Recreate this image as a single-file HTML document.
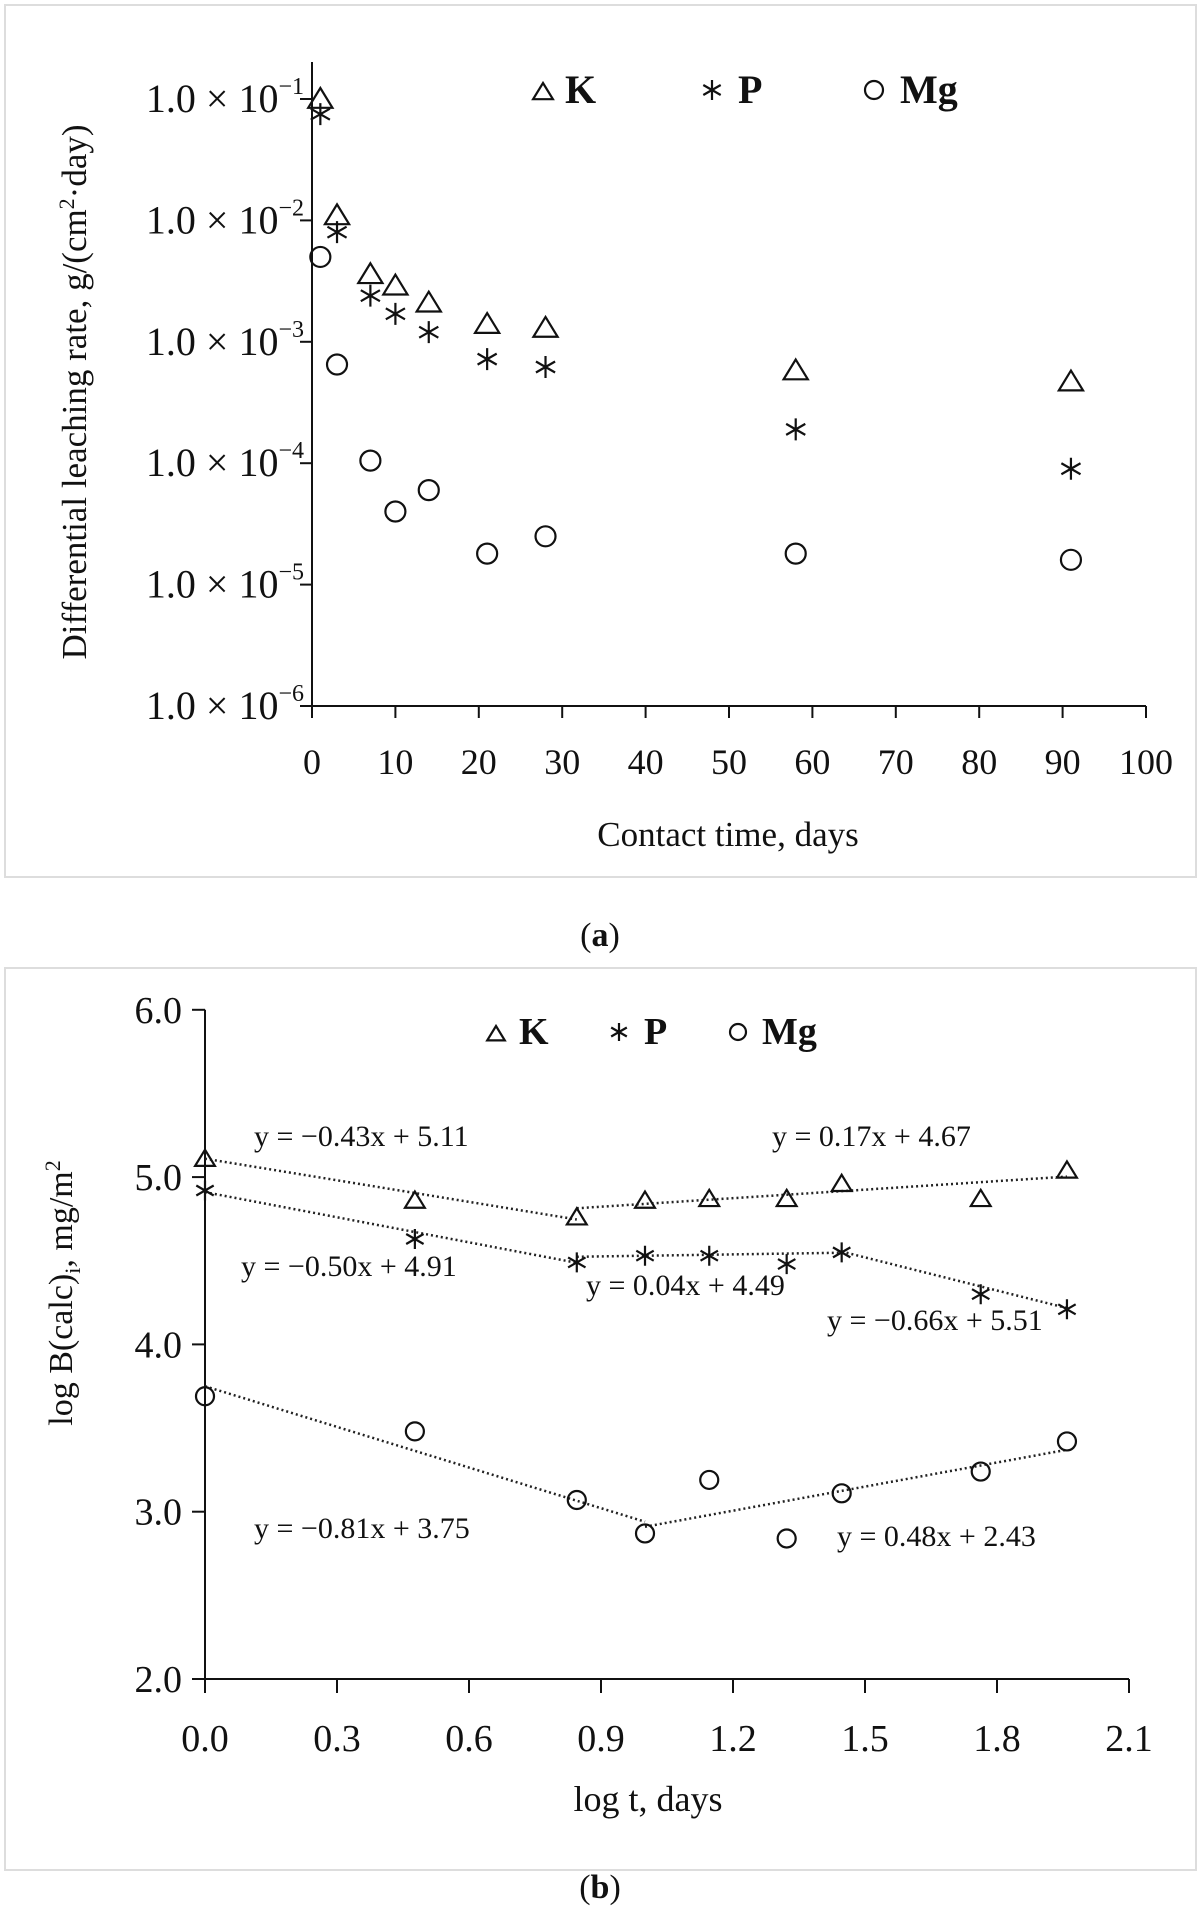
<!DOCTYPE html>
<html><head><meta charset="utf-8"><style>
body{margin:0;background:#fff}
svg{display:block}
text{font-family:"Liberation Serif",serif;fill:#111}
</style></head><body>
<svg width="1203" height="1908" viewBox="0 0 1203 1908" xmlns="http://www.w3.org/2000/svg">
<rect x="5" y="5" width="1191" height="872" fill="none" stroke="#ddd" stroke-width="2"/>
<rect x="5" y="968" width="1191" height="902" fill="none" stroke="#ddd" stroke-width="2"/>
<g id="ca"></g>
<g id="cb"></g>
<text x="600" y="946" font-size="34" text-anchor="middle">(<tspan font-weight="bold">a</tspan>)</text>
<text x="600" y="1898" font-size="34" text-anchor="middle">(<tspan font-weight="bold">b</tspan>)</text>
</svg>
<script>
// ---- chart a data ----
const daysA = [1,3,7,10,14,21,28,58,91];
const kA = [0.1,0.011,0.0036,0.0029,0.0021,0.0014,0.0013,0.00058,0.00047];
const pA = [0.075,0.008,0.0024,0.0017,0.0012,0.00072,0.00062,0.00019,0.00009];
const mgA = [0.005,0.00065,0.000105,0.00004,0.00006,0.000018,0.000025,0.000018,0.000016];
const xTicksA = [0,10,20,30,40,50,60,70,80,90,100];
const yExpA = [-1,-2,-3,-4,-5,-6];
// ---- chart b data ----
const logT = [0,0.477,0.845,1.0,1.146,1.322,1.447,1.763,1.959];
const kB = [5.11,4.86,4.76,4.86,4.87,4.87,4.96,4.87,5.04];
const pB = [4.92,4.63,4.49,4.53,4.53,4.48,4.55,4.30,4.21];
const mgB = [3.69,3.48,3.07,2.87,3.19,2.84,3.11,3.24,3.42];
const xTicksB = [0,0.3,0.6,0.9,1.2,1.5,1.8,2.1];
const yTicksB = [2,3,4,5,6];
const fitSlopes = [-0.43,0.17,-0.50,0.04,-0.66,-0.81,0.48];
const fitIntercepts = [5.11,4.67,4.91,4.49,5.51,3.75,2.43];
const fitStart = [0,0.845,0,0.845,1.447,0,1.0];
const fitEnd = [0.845,1.959,0.845,1.447,1.959,1.0,1.959];
const fitLabels = ["y = −0.43x + 5.11","y = 0.17x + 4.67","y = −0.50x + 4.91","y = 0.04x + 4.49","y = −0.66x + 5.51","y = −0.81x + 3.75","y = 0.48x + 2.43"];
const fitLabelPos = [[254,1146],[772,1146],[241,1276],[586,1295],[827,1330],[254,1538],[837,1546]];

const NS="http://www.w3.org/2000/svg";
function mk(parent,tag,attrs,txt){const e=document.createElementNS(NS,tag);for(const k in attrs)e.setAttribute(k,attrs[k]);if(txt!==undefined)e.textContent=txt;parent.appendChild(e);return e;}
function tri(g,x,y,s){return mk(g,'path',{d:`M${x} ${y-s} L${x+s*1.1} ${y+s*0.8} L${x-s*1.1} ${y+s*0.8} Z`,fill:'none',stroke:'#111','stroke-width':2.2});}
function star(g,x,y,s){return mk(g,'path',{d:`M${x} ${y-s}V${y+s}M${x-s*0.87} ${y-s*0.5}L${x+s*0.87} ${y+s*0.5}M${x-s*0.87} ${y+s*0.5}L${x+s*0.87} ${y-s*0.5}`,fill:'none',stroke:'#111','stroke-width':2.2});}
function circ(g,x,y,r){return mk(g,'circle',{cx:x,cy:y,r:r,fill:'none',stroke:'#111','stroke-width':2.2});}

// chart a
const ga=document.getElementById('ca');
const xa=v=>312+v*8.34;
const ya=v=>99+(-1-Math.log10(v))*121.4;
let e;
e=mk(ga,'line',{x1:312,y1:62,x2:312,y2:ya(1e-6),stroke:'#111','stroke-width':2});


e=mk(ga,'line',{x1:312,y1:ya(1e-6),x2:xa(100),y2:ya(1e-6),stroke:'#111','stroke-width':2});


xTicksA.forEach(t=>{
  mk(ga,'line',{x1:xa(t),y1:ya(1e-6),x2:xa(t),y2:ya(1e-6)+12,stroke:'#111','stroke-width':2});
  e=mk(ga,'text',{x:xa(t),y:ya(1e-6)+68,'font-size':36,'text-anchor':'middle'},String(t));
  
  
});
yExpA.forEach(p=>{
  const y=ya(Math.pow(10,p));
  mk(ga,'line',{x1:300,y1:y,x2:312,y2:y,stroke:'#111','stroke-width':2});
  e=mk(ga,'text',{x:304,y:y+13,'font-size':40,fill:'#333','text-anchor':'end'});
  e.innerHTML='1.0 × 10<tspan font-size="24" dy="-18">−'+(-p)+'</tspan>';
  
  
});
e=mk(ga,'text',{x:728,y:846,'font-size':35,'text-anchor':'middle'},'Contact time, days');


e=mk(ga,'text',{x:0,y:0,'font-size':35,'text-anchor':'middle',transform:'translate(86,392) rotate(-90)'});
e.innerHTML='Differential leaching rate, g/(cm<tspan font-size="22" dy="-12">2</tspan><tspan dy="12">·day)</tspan>';


daysA.forEach((d,i)=>{
  e=tri(ga,xa(d),ya(kA[i]),11);
  
  
  e=star(ga,xa(d),ya(pA[i]),11);
  
  
  e=circ(ga,xa(d),ya(mgA[i]),10);
  
  
});
e=tri(ga,543,92,9);


e=mk(ga,'text',{x:565,y:103,'font-size':40,'font-weight':'bold'},'K');


e=star(ga,712,90,10);


e=mk(ga,'text',{x:738,y:103,'font-size':40,'font-weight':'bold'},'P');


e=circ(ga,874,90,9);


e=mk(ga,'text',{x:900,y:103,'font-size':40,'font-weight':'bold'},'Mg');



// chart b
const gb=document.getElementById('cb');
const xb=v=>205+v*440;
const yb=v=>1679-(v-2)*167.3;
e=mk(gb,'line',{x1:205,y1:yb(6),x2:205,y2:yb(2)+12,stroke:'#111','stroke-width':2});


e=mk(gb,'line',{x1:192,y1:yb(2),x2:xb(2.1),y2:yb(2),stroke:'#111','stroke-width':2});


xTicksB.forEach(t=>{
  mk(gb,'line',{x1:xb(t),y1:yb(2),x2:xb(t),y2:yb(2)+14,stroke:'#111','stroke-width':2});
  e=mk(gb,'text',{x:xb(t),y:1751,'font-size':38,'text-anchor':'middle',fill:'#222'},t.toFixed(1));
  
  
});
yTicksB.forEach(t=>{
  mk(gb,'line',{x1:192,y1:yb(t),x2:205,y2:yb(t),stroke:'#111','stroke-width':2});
  e=mk(gb,'text',{x:182,y:yb(t)+13,'font-size':38,'text-anchor':'end',fill:'#222'},t.toFixed(1));
  
  
});
e=mk(gb,'text',{x:648,y:1811,'font-size':36,'text-anchor':'middle'},'log t, days');


e=mk(gb,'text',{x:0,y:0,'font-size':34,'text-anchor':'middle',transform:'translate(72,1293) rotate(-90)'});
e.innerHTML='log B(calc)<tspan font-size="22" dy="8">i</tspan><tspan dy="-8">, mg/m</tspan><tspan font-size="22" dy="-12">2</tspan>';


fitSlopes.forEach((m,i)=>{
  const a=fitStart[i],b=fitEnd[i];
  e=mk(gb,'line',{x1:xb(a),y1:yb(m*a+fitIntercepts[i]),x2:xb(b),y2:yb(m*b+fitIntercepts[i]),stroke:'#222','stroke-width':2.5,'stroke-dasharray':'2 3'});
  
  
  e=mk(gb,'text',{x:fitLabelPos[i][0],y:fitLabelPos[i][1],'font-size':30,fill:'#333'},fitLabels[i]);
  
  
});
logT.forEach((t,i)=>{
  e=tri(gb,xb(t),yb(kB[i]),9);
  
  
  e=star(gb,xb(t),yb(pB[i]),10);
  
  
  e=circ(gb,xb(t),yb(mgB[i]),9);
  
  
});
e=tri(gb,496,1034,8);


e=mk(gb,'text',{x:519,y:1044,'font-size':38,'font-weight':'bold'},'K');


e=star(gb,619,1032,9);


e=mk(gb,'text',{x:644,y:1044,'font-size':38,'font-weight':'bold'},'P');


e=circ(gb,738,1032,8);


e=mk(gb,'text',{x:762,y:1044,'font-size':38,'font-weight':'bold'},'Mg');


</script>
</body></html>
